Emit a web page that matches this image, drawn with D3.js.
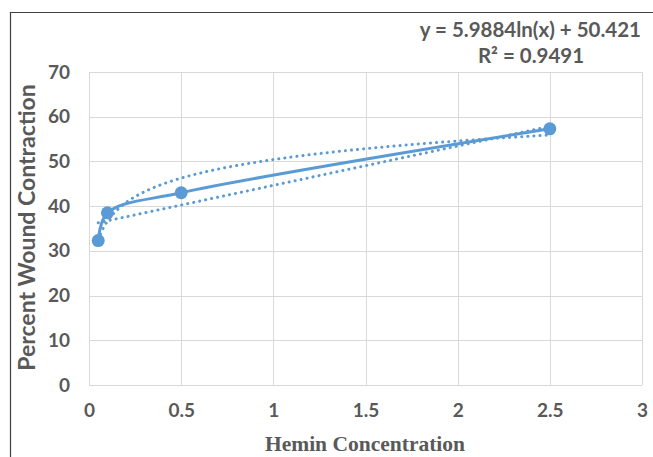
<!DOCTYPE html>
<html>
<head>
<meta charset="utf-8">
<script src="https://cdn.jsdelivr.net/npm/d3@7"></script>
<style>
  html, body { margin: 0; padding: 0; background: #fff; }
  svg { display: block; }
</style>
</head>
<body>
<div id="chart"></div>
<script>
// data
var concentration = [0.05, 0.1, 0.5, 2.5];
var contraction = [32.3, 38.5, 43.0, 57.3];
var xTicks = [0, 0.5, 1, 1.5, 2, 2.5, 3];
var yTicks = [0, 10, 20, 30, 40, 50, 60, 70];
var logCoef = [5.9884, 50.421]; // y = a ln(x) + b, as shown on the chart
var eqLabel = 'y = 5.9884ln(x) + 50.421';
var r2Label = 'R² = 0.9491';

(function() {
    var width = 653, height = 457;
    var plot = { left: 89, right: 642, top: 72, bottom: 385 };
    var blue = '#5b9bd5';
    var grey = '#595959';
    var sans = 'Lato, "Open Sans", sans-serif';

    var svg = d3.select('#chart').append('svg')
        .attr('width', width)
        .attr('height', height);

    // outer frame (only top and left visible in the crop)
    svg.append('path')
        .attr('d', 'M10.5,' + height + 'V12.5H' + width)
        .attr('fill', 'none')
        .attr('stroke', '#404040')
        .attr('stroke-width', 1.2);

    var x = d3.scaleLinear().domain([0, 3]).range([plot.left, plot.right]);
    var y = d3.scaleLinear().domain([0, 70]).range([plot.bottom, plot.top]);

    var g = svg.append('g');

    // gridlines
    g.append('g').selectAll('line.h').data(yTicks).join('line')
        .attr('x1', plot.left).attr('x2', plot.right)
        .attr('y1', function(d) { return Math.round(y(d)) + 0.5; })
        .attr('y2', function(d) { return Math.round(y(d)) + 0.5; })
        .attr('stroke', '#d9d9d9').attr('stroke-width', 1);
    g.append('g').selectAll('line.v').data(xTicks).join('line')
        .attr('y1', plot.top).attr('y2', plot.bottom)
        .attr('x1', function(d) { return Math.round(x(d)) + 0.5; })
        .attr('x2', function(d) { return Math.round(x(d)) + 0.5; })
        .attr('stroke', '#d9d9d9').attr('stroke-width', 1);

    // axes, labels only
    var xAxis = svg.append('g')
        .attr('transform', 'translate(0,' + plot.bottom + ')')
        .call(d3.axisBottom(x).tickValues(xTicks).tickSize(0).tickPadding(19)
            .tickFormat(function(d) { return String(d); }));
    var yAxis = svg.append('g')
        .attr('transform', 'translate(' + plot.left + ',0)')
        .call(d3.axisLeft(y).tickValues(yTicks).tickSize(0).tickPadding(19));
    [xAxis, yAxis].forEach(function(a) {
        a.select('.domain').remove();
        a.selectAll('text')
            .attr('fill', grey)
            .attr('font-family', sans)
            .attr('font-weight', 'bold')
            .attr('font-size', '19px');
    });

    // linear trendline computed from the points
    var mx = d3.mean(concentration), my = d3.mean(contraction);
    var sxy = d3.sum(concentration, function(d, i) { return (d - mx) * (contraction[i] - my); });
    var sxx = d3.sum(concentration, function(d) { return (d - mx) * (d - mx); });
    var slope = sxy / sxx, intercept = my - slope * mx;

    var xMin = d3.min(concentration), xMax = d3.max(concentration);
    var samples = d3.range(0, 201).map(function(i) { return xMin + (xMax - xMin) * i / 200; });

    var trend = d3.line()
        .x(function(d) { return x(d[0]); })
        .y(function(d) { return y(d[1]); });

    g.append('path')
        .datum(samples.map(function(v) { return [v, slope * v + intercept]; }))
        .attr('d', trend)
        .attr('fill', 'none').attr('stroke', blue)
        .attr('stroke-width', 3).attr('stroke-linecap', 'round')
        .attr('stroke-dasharray', '0.1 6');

    g.append('path')
        .datum(samples.map(function(v) { return [v, logCoef[0] * Math.log(v) + logCoef[1]]; }))
        .attr('d', trend)
        .attr('fill', 'none').attr('stroke', blue)
        .attr('stroke-width', 3).attr('stroke-linecap', 'round')
        .attr('stroke-dasharray', '0.1 6');

    // smoothed series line
    var pts = concentration.map(function(d, i) { return [d, contraction[i]]; });
    g.append('path')
        .datum(pts)
        .attr('d', d3.line()
            .x(function(d) { return x(d[0]); })
            .y(function(d) { return y(d[1]); })
            .curve(d3.curveCatmullRom.alpha(0.5)))
        .attr('fill', 'none').attr('stroke', blue)
        .attr('stroke-width', 3).attr('stroke-linecap', 'round');

    g.append('g').selectAll('circle').data(pts).join('circle')
        .attr('cx', function(d) { return x(d[0]); })
        .attr('cy', function(d) { return y(d[1]); })
        .attr('r', 6.5)
        .attr('fill', blue);

    // trendline label
    svg.append('text')
        .attr('x', 641).attr('y', 37)
        .attr('text-anchor', 'end')
        .attr('fill', grey)
        .attr('font-family', sans)
        .attr('font-weight', 'bold')
        .attr('font-size', '20.5px')
        .text(eqLabel);
    svg.append('text')
        .attr('x', 531).attr('y', 63)
        .attr('text-anchor', 'middle')
        .attr('fill', grey)
        .attr('font-family', sans)
        .attr('font-weight', 'bold')
        .attr('font-size', '20.5px')
        .text(r2Label);

    // axis titles
    svg.append('text')
        .attr('transform', 'translate(35,' + ((plot.top + plot.bottom) / 2 - 1) + ') rotate(-90)')
        .attr('text-anchor', 'middle')
        .attr('fill', grey)
        .attr('font-family', sans)
        .attr('font-weight', 'bold')
        .attr('font-size', '23px')
        .text('Percent Wound Contraction');
    svg.append('text')
        .attr('x', 365).attr('y', 451)
        .attr('text-anchor', 'middle')
        .attr('fill', grey)
        .attr('font-family', '"Liberation Serif", "Times New Roman", serif')
        .attr('font-weight', 'bold')
        .attr('font-size', '21.5px')
        .text('Hemin Concentration');
})();
</script>
</body>
</html>
